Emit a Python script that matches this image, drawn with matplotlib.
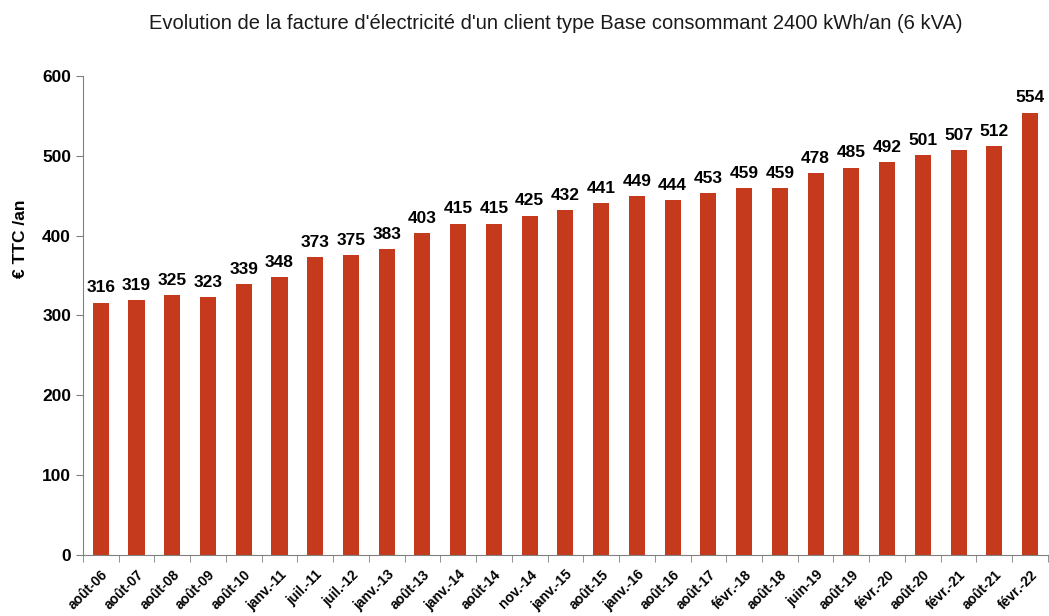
import matplotlib.pyplot as plt
import numpy as np

plt.rcParams['font.family'] = ['Liberation Sans', 'DejaVu Sans']

periods = ['août-06', 'août-07', 'août-08', 'août-09', 'août-10', 'janv.-11',
           'juil.-11', 'juil.-12', 'janv.-13', 'août-13', 'janv.-14', 'août-14',
           'nov.-14', 'janv.-15', 'août-15', 'janv.-16', 'août-16', 'août-17',
           'févr.-18', 'août-18', 'juin-19', 'août-19', 'févr.-20', 'août-20',
           'févr.-21', 'août-21', 'févr.-22']
bill = [316, 319, 325, 323, 339, 348, 373, 375, 383, 403, 415, 415, 425,
        432, 441, 449, 444, 453, 459, 459, 478, 485, 492, 501, 507, 512, 554]

fig = plt.figure(figsize=(10.49, 6.16), dpi=100)
ax = fig.add_axes([0.079, 0.099, 0.92, 0.778])

x = np.arange(len(periods))
ax.bar(x, bill, width=0.45, color='#C5391C')
for xi, v in zip(x, bill):
    ax.text(xi, v + 9, str(v), ha='center', va='bottom', fontsize=12.5, fontweight='bold')

ax.set_xlim(-0.5, len(periods) - 0.5)
ax.set_ylim(0, 600)
ax.set_yticks(range(0, 601, 100))
ax.tick_params(axis='y', labelsize=12.5, color='#808080', length=5, direction='out')
for lbl in ax.get_yticklabels():
    lbl.set_fontweight('bold')

ax.set_xticks(x)
ax.set_xticklabels(periods, rotation=45, ha='right', rotation_mode='anchor',
                   fontsize=10, fontweight='bold')
ax.tick_params(axis='x', length=0, pad=9)
ax.set_xticks(np.arange(len(periods) + 1) - 0.5, minor=True)
ax.tick_params(axis='x', which='minor', length=5, color='#808080')

ax.set_ylabel('€ TTC /an', fontsize=12.5, fontweight='bold')
ax.yaxis.set_label_coords(-0.057, 0.66)

for s in ['top', 'right']:
    ax.spines[s].set_visible(False)
for s in ['left', 'bottom']:
    ax.spines[s].set_color('#808080')

fig.text(0.53, 0.962, "Evolution de la facture d'électricité d'un client type Base consommant 2400 kWh/an (6 kVA)",
         ha='center', va='center', fontsize=14.5, color='#1a1a1a')

fig.savefig('out.png', dpi=100)
